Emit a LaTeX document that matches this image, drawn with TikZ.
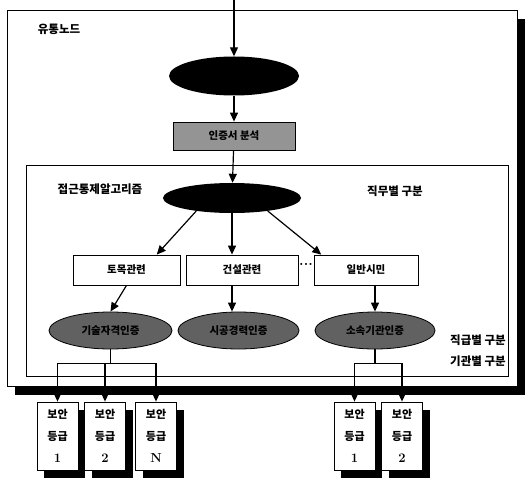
\documentclass[tikz,border=0pt]{standalone}
\usepackage{fontspec}
\newfontfamily\krfont{Noto Sans CJK KR}
\newcommand\lvnum[1]{{\rmfamily\bfseries\fontsize{13}{22}\selectfont #1}}
\usetikzlibrary{shapes.geometric, arrows.meta, positioning, shadows}

\begin{document}
\begin{tikzpicture}[
    x=1pt, y=-1pt,
    every node/.style={font=\krfont\bfseries\fontsize{10.5}{12}\selectfont},
    arrow/.style={-{Triangle[length=9pt, width=8pt]}, line width=1.2pt},
    link/.style={line width=1.2pt},
    darkell/.style={ellipse, fill=black, inner sep=0pt},
    grayell/.style={ellipse, draw, thick, fill=black!62, minimum height=37pt, inner sep=0pt},
    jobbox/.style={rectangle, draw, thick, fill=white, minimum height=30pt},
    levelbox/.style={rectangle, draw, thick, fill=white, minimum width=41pt, minimum height=68pt,
      align=center, inner sep=1pt, font=\krfont\bfseries\fontsize{11}{22}\selectfont,
      drop shadow={shadow xshift=7pt, shadow yshift=-8pt, opacity=1, fill=black}},
    grouptext/.style={font=\krfont\bfseries\fontsize{11.5}{13}\selectfont}
  ]
    \useasboundingbox (0,0) rectangle (532,481);

    % frames
    \draw[thick, fill=white, drop shadow={shadow xshift=8pt, shadow yshift=-9pt, opacity=1, fill=black}]
      (7,10) rectangle (517,386);
    \draw[thick] (26,165) rectangle (508,376);

    % upper part
    \coordinate (entry) at (234,0);
    \node[darkell, minimum width=130pt, minimum height=39pt] (auth) at (234,76) {};
    \node[rectangle, draw, thick, fill=black!42, minimum width=122pt, minimum height=28pt] (cert) at (234,136) {인증서 분석};
    \node[darkell, minimum width=138pt, minimum height=30pt] (acell) at (232,198) {};

    % job groups
    \node[jobbox, minimum width=107pt] (job1) at (126.5,270) {토목관련};
    \node[jobbox, minimum width=112pt] (job2) at (242,270) {건설관련};
    \node[jobbox, minimum width=104pt] (job3) at (366,270) {일반시민};
    \node[font=\bfseries\Large] (dots) at (306,264) {...};

    % certificate checks
    \node[grayell, minimum width=123pt] (g1) at (110.5,330.5) {기술자격인증};
    \node[grayell, minimum width=121pt] (g2) at (238.5,330.5) {시공경력인증};
    \node[grayell, minimum width=120pt] (g3) at (375,330.5) {소속기관인증};

    % security levels
    \node[levelbox] (lv1) at (57.5,436) {보안\\등급\\\lvnum{1}};
    \node[levelbox] (lv2) at (105,436) {보안\\등급\\\lvnum{2}};
    \node[levelbox] (lvN) at (156,436) {보안\\등급\\\lvnum{N}};
    \node[levelbox] (lvr1) at (354.5,436) {보안\\등급\\\lvnum{1}};
    \node[levelbox] (lvr2) at (402,436) {보안\\등급\\\lvnum{2}};

    % labels
    \node[grouptext] (node_lbl) at (59,29) {유통노드};
    \node[grouptext] (alg_lbl) at (100,189) {접근통제알고리즘};
    \node[grouptext] (duty_lbl) at (395,191) {직무별 구분};
    \node[grouptext] (rank_lbl) at (478,340) {직급별 구분};
    \node[grouptext] (org_lbl) at (478,361) {기관별 구분};

    % arrows
    \draw[arrow] (entry) -- (auth);
    \draw[arrow] (auth) -- (cert);
    \draw[arrow] (cert) -- (acell);
    \draw[arrow] (acell.200) -- (job1.27);
    \draw[arrow] (acell) -- (acell |- job2.north);
    \draw[arrow] (acell.340) -- (job3.161);
    \draw[arrow] (job1.south) -- (g1.north);
    \draw[arrow] (acell |- job2.south) -- (acell |- g2.north);
    \draw[arrow] (g3.north |- job3.south) -- (g3.north);

    % forks to levels
    \draw[link] (g1.south) -- ++(0,14) coordinate (fork1);
    \draw[arrow] (fork1) -| (lv1);
    \draw[arrow] (fork1) -| (lv2);
    \draw[arrow] (fork1) -| (lvN);
    \draw[link] (g3.south) -- ++(0,14) coordinate (fork2);
    \draw[arrow] (fork2) -| (lvr1);
    \draw[arrow] (fork2) -| (lvr2);
  \end{tikzpicture}
\end{document}
